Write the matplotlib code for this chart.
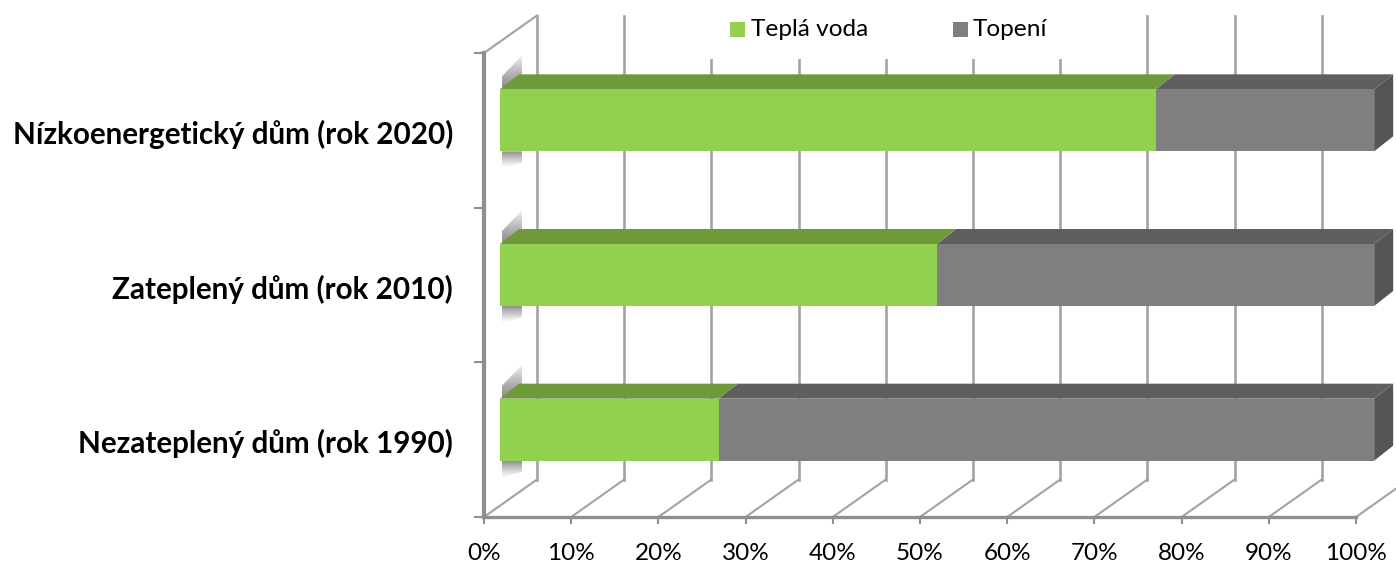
import numpy as np
import matplotlib
matplotlib.use("Agg")
import matplotlib.pyplot as plt
from matplotlib.patches import Polygon, Rectangle

categories = ["Nezateplený dům (rok 1990)", "Zateplený dům (rok 2010)", "Nízkoenergetický dům (rok 2020)"]
tepla_voda = [25, 50, 75]
topeni = [75, 50, 25]
xticks = [0, 10, 20, 30, 40, 50, 60, 70, 80, 90, 100]

W, H = 1396, 562
plt.rcParams['font.family'] = ['Lato', 'DejaVu Sans']
fig = plt.figure(figsize=(W / 100, H / 100), dpi=100)
fig.patch.set_facecolor('white')
L, R, T, B = 484, 1356, 53, 517
ax = fig.add_axes([L / W, 1 - B / H, (R - L) / W, (B - T) / H])
ax.set_xlim(0, 100)
ax.set_ylim(0, len(categories))
ax.axis('off')

pxx = 100 / (R - L)
pxy = len(categories) / (B - T)
wall_dx, wall_dy = 53 * pxx, 37.5 * pxy
bar_sx, bar_sy = 16 * pxx, 10 * pxy
depth_x, depth_y = 19 * pxx, 15 * pxy
bar_h = 62 * pxy
bar_scale = 1.0025
grid = '#a3a3a3'
axis_c = '#8f8f8f'

kw = dict(clip_on=False)
for t in xticks:
    ax.plot([t + wall_dx] * 2, [wall_dy, len(categories) + wall_dy], color=grid, lw=1.9, zorder=1, **kw)
    ax.plot([t, t + wall_dx], [0, wall_dy], color=grid, lw=1.5, zorder=1, **kw)
    ax.plot([t, t], [0, -6 * pxy], color=axis_c, lw=1.5, zorder=2, **kw)
ax.plot([0, wall_dx], [len(categories), len(categories) + wall_dy], color=grid, lw=1.5, zorder=1, **kw)
ax.plot([0, 100], [0, 0], color=axis_c, lw=2.4, zorder=2, **kw)
ax.plot([0, 0], [0, len(categories)], color=axis_c, lw=3.0, zorder=2, **kw)
for k in range(len(categories) + 1):
    ax.plot([0, -9 * pxx], [k, k], color=axis_c, lw=1.5, zorder=2, **kw)

# soft shadows on the side wall beside each bar
grad = np.linspace(0, 1, 64).reshape(-1, 1)
shade = np.zeros((64, 1, 4))
shade[..., :3] = 0.42
for i in range(len(categories)):
    yc = i + 0.5 + bar_sy
    xa, xb = bar_sx + 2 * pxx, bar_sx + depth_x + 3 * pxx
    ytop = yc + bar_h / 2
    ybot = yc - bar_h / 2
    # above the bar
    sh = shade.copy()
    sh[..., 3] = (0.85 * grad ** 0.8)
    im = ax.imshow(sh, extent=[xa, xb, ytop - 2 * pxy, ytop + 35 * pxy], origin='upper', aspect='auto',
                   zorder=2.5, interpolation='bilinear')
    im.set_clip_path(Polygon([(xa, ytop), (xa, ytop + 13 * pxy), (xb, ytop + 34 * pxy), (xb, ytop + 15 * pxy)],
                             transform=ax.transData))
    # below the bar
    sh = shade.copy()
    sh[..., 3] = (0.75 * grad ** 1.2)
    im = ax.imshow(sh, extent=[xa, xb, ybot - 17 * pxy, ybot], origin='lower', aspect='auto',
                   zorder=2.5, interpolation='bilinear')
    im.set_clip_path(Polygon([(xa, ybot), (xa, ybot - 17 * pxy), (xb, ybot - 11 * pxy), (xb, ybot)],
                             transform=ax.transData))
ax.set_xlim(0, 100)
ax.set_ylim(0, len(categories))


def box(x0, x1, yc, front, top, side, last):
    x0s, x1s = x0 * bar_scale + bar_sx, x1 * bar_scale + bar_sx
    y0, y1 = yc - bar_h / 2, yc + bar_h / 2
    ax.add_patch(Polygon([(x0s, y1), (x1s, y1), (x1s + depth_x, y1 + depth_y), (x0s + depth_x, y1 + depth_y)],
                         fc=top, ec='none', zorder=3, clip_on=False))
    if last:
        ax.add_patch(Polygon([(x1s, y0), (x1s + depth_x, y0 + depth_y), (x1s + depth_x, y1 + depth_y), (x1s, y1)],
                             fc=side, ec='none', zorder=3, clip_on=False))
    ax.add_patch(Polygon([(x0s, y0), (x1s, y0), (x1s, y1), (x0s, y1)], fc=front, ec='none', zorder=4, clip_on=False))


for i, (a, b) in enumerate(zip(tepla_voda, topeni)):
    yc = i + 0.5 + bar_sy
    box(a, a + b, yc, '#7f7f7f', '#5f5f5f', '#555555', True)
    box(0, a, yc, '#92d050', '#6f9a3c', '#6f9a3c', False)
    ax.text(-31 * pxx, yc - 14 * pxy, categories[i], ha='right', va='center', fontsize=21.3, fontweight='bold',
            color='black', clip_on=False)

for t in xticks:
    ax.text(t, -37 * pxy, f"{t}%", ha='center', va='center', fontsize=17.5, color='black', clip_on=False)

# legend
pa = fig.add_axes([0, 0, 1, 1], facecolor='none')
pa.set_xlim(0, W)
pa.set_ylim(H, 0)
pa.axis('off')
pa.add_patch(Rectangle((690, 10), 385, 49, fc='white', ec='none', zorder=5))
pa.add_patch(Rectangle((730, 22), 15, 15, fc='#92d050', ec='none', zorder=6))
pa.add_patch(Rectangle((953, 22), 15, 15, fc='#7f7f7f', ec='none', zorder=6))
pa.text(751, 29, "Teplá voda", fontsize=17.6, va='center', ha='left', zorder=6)
pa.text(973, 29, "Topení", fontsize=17.6, va='center', ha='left', zorder=6)

fig.savefig('out.png', dpi=100)
